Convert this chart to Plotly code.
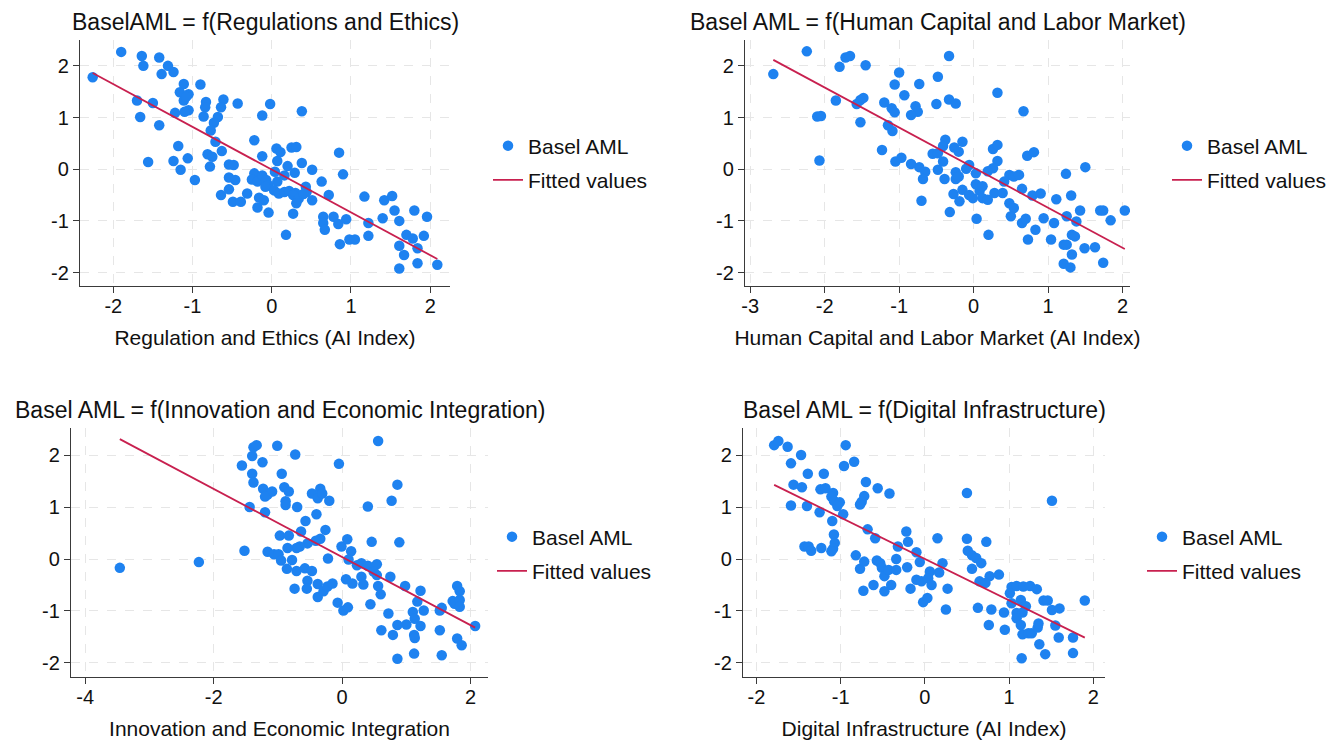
import numpy as np
import plotly.graph_objects as go

# ---------------- data ----------------
x1 = [-1.90,-1.64,-1.62,-1.42,-1.31,-1.24,-1.39,-2.26,-0.90,-1.11,-1.16,-1.05,-1.11,-1.08,-1.70,-1.50,
      -0.83,-0.84,-0.61,-0.64,-0.43,-0.02,0.38,-0.12,-1.05,-1.10,-1.22,-1.66,-0.86,-0.68,-0.73,-1.42,
      -0.77,-0.71,-1.18,-0.22,0.06,0.11,0.25,0.31,0.85,-0.63,-0.81,-0.75,-0.12,-1.56,-1.24,-1.06,
      -0.78,-1.15,-0.54,-0.48,0.07,0.38,0.51,0.90,-0.97,-0.54,-0.46,-0.22,-0.25,-0.18,-0.12,-0.07,
      -0.04,0.04,0.16,0.20,0.29,0.07,-0.08,0.03,0.09,0.16,0.22,0.30,0.27,0.34,0.43,0.44,0.40,0.63,
      0.72,0.51,-0.64,-0.54,-0.31,-0.49,-0.39,-0.16,-0.10,-0.18,-0.04,0.27,0.31,0.65,0.65,0.67,0.78,
      0.84,0.94,0.86,0.98,1.05,0.18,1.17,1.22,1.22,1.42,1.52,1.55,1.40,1.61,1.80,1.96,1.61,1.67,1.70,
      1.78,1.84,1.92,1.61,1.84,2.09]
y1 = [2.27,2.19,2.00,2.16,2.00,1.88,1.84,1.78,1.64,1.65,1.49,1.45,1.33,1.40,1.33,1.28,
      1.30,1.20,1.35,1.20,1.27,1.26,1.12,1.04,1.14,1.11,1.09,1.01,1.02,1.01,0.90,0.85,
      0.75,0.53,0.45,0.56,0.40,0.33,0.42,0.43,0.32,0.35,0.29,0.24,0.25,0.14,0.16,0.21,
      0.05,-0.01,0.09,0.08,0.16,0.12,-0.01,-0.10,-0.21,-0.16,-0.21,-0.08,-0.20,-0.24,-0.12,-0.21,
      -0.31,-0.05,-0.12,0.06,-0.07,-0.24,-0.34,-0.41,-0.47,-0.44,-0.42,-0.46,-0.50,-0.57,-0.34,-0.44,-0.48,-0.24,
      -0.50,-0.60,-0.50,-0.39,-0.47,-0.63,-0.63,-0.55,-0.60,-0.74,-0.84,-0.86,-0.66,-0.92,-1.04,-1.17,-0.92,
      -1.06,-0.97,-1.45,-1.36,-1.36,-1.27,-0.53,-1.04,-1.29,-0.60,-0.52,-0.80,-0.95,-1.00,-0.80,-0.92,-1.48,-1.66,-1.27,
      -1.34,-1.53,-1.29,-1.92,-1.82,-1.85]

x2 = [-2.69,-2.24,-1.72,-1.66,-1.80,-1.45,-1.00,-1.06,-0.73,-0.93,-1.85,-1.52,-1.48,-1.57,-1.20,-1.10,
      -1.06,-0.78,-0.75,-0.84,-0.48,-0.50,-2.10,-2.05,-1.52,-1.15,-1.09,-2.07,-1.23,-1.05,-0.97,-0.84,
      -0.73,-0.65,-0.68,-0.70,-0.55,-0.48,-0.33,-0.33,-0.24,0.32,0.67,-0.38,-0.41,-0.15,-0.26,-0.20,
      -0.48,-0.41,-0.39,-0.24,-0.24,-0.20,-0.06,-0.10,0.03,0.26,0.32,0.32,0.26,0.19,0.48,0.54,0.61,
      0.41,0.72,0.81,0.65,0.79,0.90,-0.27,-0.19,-0.15,-0.06,-0.01,0.08,0.12,0.19,0.28,0.03,0.12,0.39,
      0.48,0.54,0.50,-0.32,0.04,0.20,0.65,0.70,0.73,0.83,0.94,1.08,1.04,1.11,1.24,1.31,1.50,1.43,1.25,
      1.38,1.32,1.36,1.21,1.25,1.32,1.49,1.63,1.70,1.74,1.84,2.03,1.21,1.30,1.74]
y2 = [1.84,2.28,2.16,2.19,1.98,2.01,1.87,1.64,1.65,1.43,1.33,1.34,1.38,1.26,1.29,1.18,
      1.10,1.22,1.11,1.05,1.79,1.26,1.02,1.03,0.91,0.85,0.74,0.17,0.37,0.15,0.22,0.10,
      0.04,-0.05,-0.19,-0.61,0.30,-0.01,2.19,1.35,1.27,1.48,1.12,0.57,0.45,0.53,0.42,0.34,
      0.31,0.15,-0.19,-0.06,-0.19,-0.14,0.08,0.01,-0.08,0.39,0.47,0.16,0.02,-0.04,-0.11,-0.14,-0.11,
      -0.24,0.26,0.33,-0.38,-0.51,-0.47,-0.48,-0.62,-0.40,-0.50,-0.56,-0.42,-0.56,-0.59,-0.46,-0.29,-0.33,-0.46,
      -0.66,-0.75,-0.91,-0.83,-0.96,-1.27,-1.04,-0.96,-1.36,-1.17,-0.95,-1.04,-1.36,-0.58,-0.09,-0.51,0.04,-0.80,-0.91,
      -1.01,-1.27,-1.30,-1.46,-1.46,-1.65,-1.53,-1.51,-0.80,-0.80,-0.99,-0.80,-1.83,-1.90,-1.81]

x3 = [-3.46,-2.23,-1.52,-1.56,-1.40,-1.38,-1.33,-1.24,-1.01,-0.73,-1.40,-1.38,-1.44,-1.20,-1.23,-1.16,
      -1.09,-1.20,-0.94,-0.90,-0.83,-0.88,-0.88,-0.70,-0.57,-0.40,-0.47,-0.38,-0.34,-0.31,-0.20,-0.05,
      0.40,0.56,0.86,0.77,0.89,0.46,-0.97,-0.83,-0.64,-0.26,-0.34,-0.41,-0.54,-0.66,-0.71,-0.85,
      -1.16,-1.06,-0.99,-0.95,-0.78,-0.86,-0.71,-0.58,-0.47,-0.54,-0.55,-0.74,-0.38,-0.38,-0.29,-0.23,
      -0.15,-0.22,-0.01,0.08,0.14,0.10,0.23,0.30,0.40,0.54,0.49,0.54,0.30,0.06,0.16,0.33,0.56,0.60,
      0.75,0.98,1.22,0.44,-0.07,0.02,0.09,0.72,0.61,0.79,0.86,1.00,1.10,1.17,1.27,1.13,1.22,1.12,1.13,
      1.52,1.55,1.52,1.72,1.79,1.83,1.75,1.83,1.83,1.79,1.86,2.07,0.86,1.12,1.55]
y3 = [-0.17,-0.06,0.16,1.80,1.98,2.15,2.19,1.86,2.18,2.01,1.64,1.47,1.00,0.90,1.35,1.24,
      1.30,1.20,1.64,1.38,1.30,1.11,1.04,1.00,0.73,0.86,1.26,1.17,1.35,1.26,1.12,1.83,
      1.01,2.27,1.43,1.12,0.32,0.33,0.45,0.45,0.53,0.56,0.39,0.35,0.30,0.24,0.21,0.21,
      0.14,0.09,0.09,-0.03,-0.02,-0.19,-0.23,-0.18,-0.23,-0.42,-0.57,-0.57,-0.48,-0.73,-0.62,-0.53,
      -0.47,0.01,0.24,0.38,0.15,-0.01,-0.12,-0.08,-0.13,-0.10,-0.24,-0.31,-0.34,-0.39,-0.47,-0.49,-0.52,-0.68,
      -0.34,-0.52,-0.61,-0.87,-0.84,-0.99,-0.93,-1.05,-1.37,-1.46,-1.27,-1.26,-1.02,-0.82,-0.99,-1.15,-1.29,-1.46,-1.52,
      -0.99,-0.94,-1.37,-0.81,-0.52,-0.62,-0.86,-0.79,-0.92,-1.53,-1.66,-1.29,-1.92,-1.82,-1.85]

x4 = [-1.79,-1.74,-1.63,-1.47,-1.59,-1.39,-1.20,-0.94,-0.96,-0.84,-1.56,-1.46,-1.24,-1.18,-1.09,-1.11,
      -1.08,-1.01,-1.04,-0.70,-0.56,-0.42,-0.72,-0.75,-0.77,-1.59,-1.40,-1.25,-0.97,-1.10,-1.08,-1.07,
      -1.09,-1.11,-1.43,-1.38,-1.35,-1.23,-0.68,-0.59,-0.22,-0.20,-0.32,-0.10,-0.82,-0.77,-0.72,-0.57,
      -0.53,-0.51,-0.48,-0.43,-0.34,-0.34,-0.21,-0.06,-0.10,-0.04,-0.17,-0.40,-0.48,-0.61,-0.73,-0.02,
      0.50,1.51,0.15,0.50,0.73,0.51,0.56,0.61,0.67,0.56,0.21,0.06,0.17,0.04,0.08,0.27,0.03,0.25,
      0.65,0.77,0.88,0.72,0.63,0.79,0.76,0.94,0.95,1.03,1.09,1.17,1.25,1.33,1.01,1.03,1.14,1.20,1.09,
      1.16,1.09,1.14,1.16,1.23,1.27,1.34,1.35,1.41,1.46,1.51,1.60,1.55,1.59,1.36,1.43,1.15,1.76,1.76,1.90]
y4 = [2.19,2.27,2.16,2.00,1.84,1.64,1.64,2.19,1.79,1.87,1.43,1.38,1.34,1.36,1.27,1.20,
      1.12,1.09,1.02,1.48,1.36,1.26,1.21,1.10,1.05,1.03,1.02,0.90,0.86,0.73,0.47,0.31,
      0.20,0.15,0.24,0.24,0.16,0.21,0.57,0.40,0.53,0.33,0.24,0.13,0.07,-0.19,-0.05,-0.03,
      -0.08,-0.17,-0.33,-0.21,-0.21,0.00,-0.16,-0.06,-0.40,-0.43,-0.57,-0.50,-0.62,-0.50,-0.61,-0.83,
      1.27,1.12,0.40,0.39,0.33,0.16,0.07,0.02,-0.08,-0.19,-0.08,-0.24,-0.26,-0.37,-0.50,-0.57,-0.75,-0.97,
      -0.43,-0.33,-0.30,-0.46,-0.94,-0.97,-1.27,-1.03,-1.36,-0.54,-0.52,-0.53,-0.52,-0.58,-0.66,-0.85,-0.79,-0.91,-1.04,
      -1.03,-1.14,-1.27,-1.45,-1.43,-1.43,-1.32,-1.24,-0.80,-0.80,-0.98,-0.95,-1.28,-1.51,-1.64,-1.83,-1.91,-1.51,-1.81,-0.80]

titles = ["BaselAML = f(Regulations and Ethics)",
          "Basel AML = f(Human Capital and Labor Market)",
          "Basel AML = f(Innovation and Economic Integration)",
          "Basel AML = f(Digital Infrastructure)"]
xtitles = ["Regulation and Ethics (AI Index)",
           "Human Capital and Labor Market (AI Index)",
           "Innovation and Economic Integration",
           "Digital Infrastructure (AI Index)"]
xtick_vals = [[-2, -1, 0, 1, 2], [-3, -2, -1, 0, 1, 2], [-4, -2, 0, 2], [-2, -1, 0, 1, 2]]
ytick_vals = [-2, -1, 0, 1, 2]
series_name = "Basel AML"
fit_name = "Fitted values"

# ---------------- layout geometry ----------------
W, H = 1343, 740
FONT = "Liberation Sans, Arial, Helvetica, sans-serif"
DOT = "#1E82F0"
LINE = "#C8204F"

panels = [
    dict(x=x1, y=y1, px=(80, 450), py=(40, 286), xr=[-2.42, 2.25], yr=[-2.26, 2.5]),
    dict(x=x2, y=y2, px=(745, 1130), py=(40, 286), xr=[-3.07, 2.1], yr=[-2.26, 2.5]),
    dict(x=x3, y=y3, px=(71, 488), py=(428, 677), xr=[-4.22, 2.27], yr=[-2.27, 2.52]),
    dict(x=x4, y=y4, px=(743, 1105), py=(428, 677), xr=[-2.16, 2.14], yr=[-2.27, 2.52]),
]
legend_pos = [(488, 163), (1167, 163), (492, 554), (1142, 554)]


def tick_text(vals):
    return [str(v) for v in vals]


fig = go.Figure()
annotations = []
for i, p in enumerate(panels):
    k = "" if i == 0 else str(i + 1)
    xa, ya = "x" + k, "y" + k
    leg = "legend" + k
    xs = np.array(p["x"], dtype=float)
    ys = np.array(p["y"], dtype=float)
    b1, b0 = np.polyfit(xs, ys, 1)
    order = np.argsort(xs)
    fx = xs[order]
    fy = b0 + b1 * fx
    fig.add_trace(go.Scatter(x=xs, y=ys, mode="markers", name=series_name,
                             marker=dict(color=DOT, size=10.5, line=dict(width=0)),
                             xaxis=xa, yaxis=ya, legend=leg, legendgroup="a%d" % i))
    fig.add_trace(go.Scatter(x=[fx[0], fx[-1]], y=[fy[0], fy[-1]], mode="lines", name=fit_name,
                             line=dict(color=LINE, width=1.8),
                             xaxis=xa, yaxis=ya, legend=leg, legendgroup="b%d" % i))
    dom_x = [p["px"][0] / W, p["px"][1] / W]
    dom_y = [1 - p["py"][1] / H, 1 - p["py"][0] / H]
    axis_common = dict(showline=True, linecolor="#3a3a3a", linewidth=1.3,
                       ticks="outside", ticklen=6, tickcolor="#3a3a3a", tickwidth=1.3,
                       showgrid=True, gridcolor="#e6e6e6", griddash="dash", gridwidth=1.3,
                       zeroline=False, automargin=False,
                       tickfont=dict(family=FONT, size=20, color="#111"))
    fig.update_layout(**{
        "xaxis" + k: dict(domain=dom_x, range=p["xr"], anchor=ya,
                          tickvals=xtick_vals[i], ticktext=tick_text(xtick_vals[i]),
                          ticklabelstandoff=-4,
                          title=dict(text=xtitles[i], standoff=14,
                                     font=dict(family=FONT, size=21, color="#111")),
                          **axis_common),
        "yaxis" + k: dict(domain=dom_y, range=p["yr"], anchor=xa,
                          tickvals=ytick_vals, ticktext=tick_text(ytick_vals),
                          **axis_common),
        leg: dict(x=legend_pos[i][0] / W, y=1 - legend_pos[i][1] / H,
                  xanchor="left", yanchor="middle", bgcolor="rgba(0,0,0,0)",
                  traceorder="grouped", tracegroupgap=4,
                  font=dict(family=FONT, size=21, color="#111")),
    })
    cx = (p["px"][0] + p["px"][1]) / 2 / W
    cy = 1 - (p["py"][0] - 18) / H
    annotations.append(dict(text=titles[i], x=cx, y=cy, xref="paper", yref="paper",
                            xanchor="center", yanchor="middle", showarrow=False,
                            font=dict(family=FONT, size=23, color="#111")))

fig.update_layout(width=W, height=H, margin=dict(l=0, r=0, t=0, b=0),
                  paper_bgcolor="white", plot_bgcolor="white",
                  annotations=annotations, showlegend=True)

fig.write_html("out.html", config={"displayModeBar": False},
               post_script="document.body.style.margin='0px';document.body.style.overflow='hidden';")
